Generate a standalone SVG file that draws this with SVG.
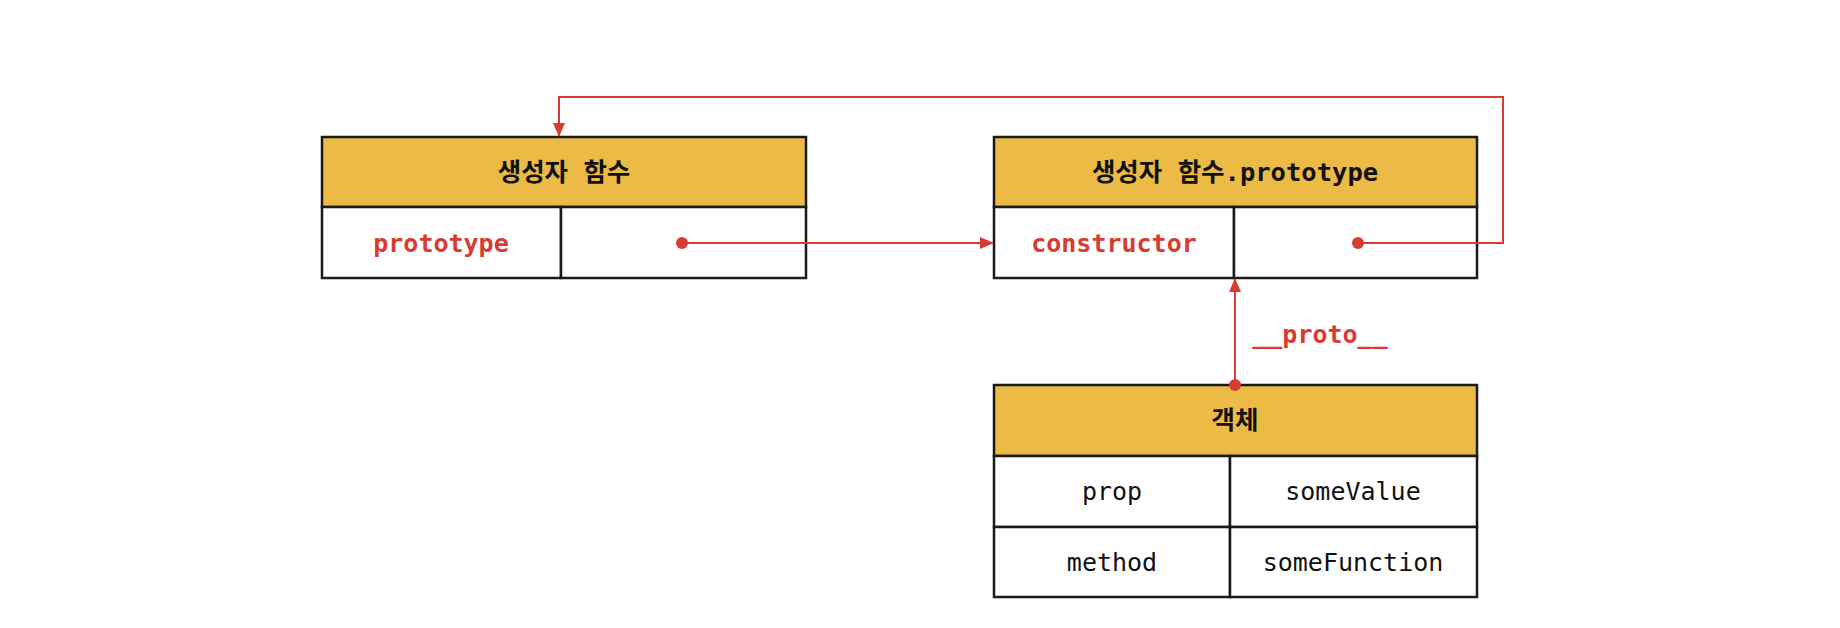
<svg xmlns="http://www.w3.org/2000/svg" width="1840" height="628" viewBox="0 0 1840 628">
<style>
.hdr{fill:#EBBB45;stroke:#1a1a1a;stroke-width:2.5}
.cell{fill:#ffffff;stroke:#1a1a1a;stroke-width:2.5}
.t{font-family:"DejaVu Sans Mono","Noto Sans CJK KR",monospace;font-size:25px;text-anchor:middle;dominant-baseline:central}
.th{font-weight:bold;fill:#111111;font-size:25.5px}
.tr{font-weight:bold;fill:#D83B31}
.tn{fill:#111111}
.conn{fill:none;stroke:#D83B31;stroke-width:2}
.dot{fill:#D83B31}
</style>
<defs>
<marker id="ah" markerUnits="userSpaceOnUse" markerWidth="14" markerHeight="12" viewBox="0 0 14 12" refX="13" refY="6" orient="auto">
<path d="M0,0 L14,6 L0,12 Z" fill="#D83B31"/>
</marker>
</defs>
<g id="node-constructor">
<rect class="hdr" x="322" y="137" width="484" height="70"/>
<rect class="cell" x="322" y="207" width="239" height="71"/>
<rect class="cell" x="561" y="207" width="245" height="71"/>
<text class="t th" x="564" y="172">생성자 함수</text>
<text class="t tr" x="441" y="243">prototype</text>
</g>
<g id="node-prototype">
<rect class="hdr" x="994" y="137" width="483" height="70"/>
<rect class="cell" x="994" y="207" width="240" height="71"/>
<rect class="cell" x="1234" y="207" width="243" height="71"/>
<text class="t th" x="1235" y="172">생성자 함수.prototype</text>
<text class="t tr" x="1114" y="243">constructor</text>
</g>
<g id="node-object">
<rect class="hdr" x="994" y="385" width="483" height="71"/>
<rect class="cell" x="994" y="456" width="236" height="71"/>
<rect class="cell" x="1230" y="456" width="247" height="71"/>
<rect class="cell" x="994" y="527" width="236" height="70"/>
<rect class="cell" x="1230" y="527" width="247" height="70"/>
<text class="t th" x="1235" y="420">객체</text>
<text class="t tn" x="1112" y="491">prop</text>
<text class="t tn" x="1353" y="491">someValue</text>
<text class="t tn" x="1112" y="562">method</text>
<text class="t tn" x="1353" y="562">someFunction</text>
</g>
<g id="connectors">
<path class="conn" d="M682,243 L993,243" marker-end="url(#ah)"/>
<circle class="dot" cx="682" cy="243" r="6"/>
<path class="conn" d="M1358,243 L1503,243 L1503,97 L559,97 L559,136" marker-end="url(#ah)"/>
<circle class="dot" cx="1358" cy="243" r="6"/>
<path class="conn" d="M1235,385 L1235,279" marker-end="url(#ah)"/>
<circle class="dot" cx="1235" cy="385" r="6"/>
<text class="t tr" x="1320" y="334">__proto__</text>
</g>
</svg>
